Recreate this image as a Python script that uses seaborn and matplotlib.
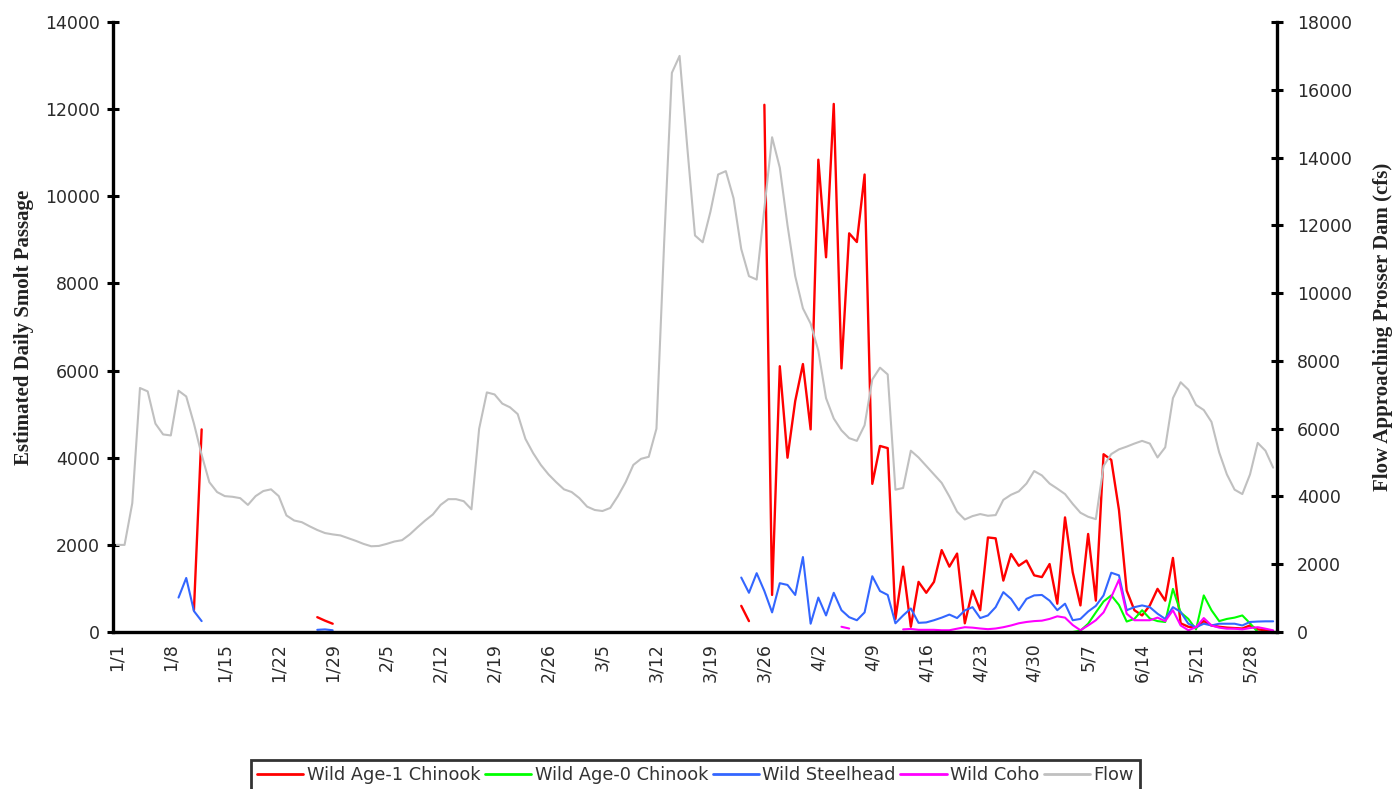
import numpy as np
import pandas as pd
import matplotlib
matplotlib.use("Agg")
import matplotlib.pyplot as plt
import seaborn as sns
from matplotlib.lines import Line2D

n = np.nan

tick_labels = ["1/1", "1/8", "1/15", "1/22", "1/29", "2/5", "2/12", "2/19", "2/26",
               "3/5", "3/12", "3/19", "3/26", "4/2", "4/9", "4/16", "4/23", "4/30",
               "5/7", "6/14", "5/21", "5/28"]

series_names = ["Wild Age-1 Chinook", "Wild Age-0 Chinook", "Wild Steelhead", "Wild Coho", "Flow"]

# Flow approaching Prosser Dam (cfs), daily 1/1 .. 5/31
flow = [2570, 2570, 3800, 7200, 7100, 6150, 5830, 5800, 7120, 6950,
        6150, 5230, 4420, 4130, 4010, 3990, 3950, 3750, 4010, 4160,
        4210, 4010, 3440, 3290, 3240, 3120, 3010, 2920, 2880, 2850,
        2770, 2690, 2600, 2530, 2540, 2600, 2670, 2710, 2880, 3090,
        3290, 3470, 3750, 3920, 3920, 3860, 3620, 6000, 7070, 7010,
        6740, 6630, 6430, 5700, 5280, 4930, 4650, 4420, 4210, 4130,
        3950, 3700, 3600, 3570, 3660, 4010, 4420, 4930, 5110, 5170,
        6000, 11500, 16500, 17000, 14300, 11700, 11500, 12400, 13500, 13600,
        12800, 11300, 10500, 10400, 12500, 14600, 13700, 12000, 10500, 9550,
        9100, 8300, 6900, 6300, 5950, 5720, 5640, 6100, 7450, 7800,
        7600, 4200, 4250, 5350, 5150, 4900, 4650, 4400, 4000, 3550,
        3320, 3420, 3480, 3430, 3450, 3900, 4050, 4150, 4380, 4750,
        4620, 4380, 4230, 4070, 3780, 3520, 3400, 3330, 4900, 5250,
        5390, 5470, 5560, 5640, 5560, 5150, 5450, 6900, 7370, 7150,
        6700, 6550, 6200, 5300, 4650, 4200, 4070, 4650, 5580, 5350,
        4850]

chinook_age1 = ([n] * 10 + [500, 4650] + [n] * 14 + [340, 260, 190] + [n] * 52 +
                [600, 250, n,
                 12100, 850, 6100, 4000, 5300, 6150, 4650, 10840, 8600, 12120,
                 6050, 9150, 8950, 10500, 3400, 4270, 4220, 300, 1500, 120,
                 1150, 900, 1150, 1880, 1500, 1800, 200, 950, 500, 2170,
                 2150, 1180, 1790, 1520, 1640, 1300, 1260, 1560, 650, 2630,
                 1370, 610, 2250, 720, 4080, 3950, 2800, 950, 500, 380,
                 610, 990, 720, 1700, 200, 120, 100, 250, 150, 120,
                 100, 90, 80, 150, 60, 40, 20])

chinook_age0 = ([n] * 103 + [0, 0, n, n, n, n, 0, 0, 0, n, n, n, n, n, n,
                             0, 0, 0, 0, 0, 0, 0, 30,
                             190, 450, 700, 840, 620, 240, 300, 500, 310, 250,
                             230, 990, 450, 300, 60, 840, 500, 250, 300, 330,
                             380, 200, 0, 0, 0])

steelhead = ([n] * 8 + [790, 1240, 480, 250] + [n] * 14 + [50, 60, 40] + [n] * 52 +
             [1250, 900, 1350, 940, 450, 1120, 1080, 850, 1720,
              190, 790, 380, 900, 500, 340, 270, 450, 1280, 940,
              850, 200, 380, 540, 210, 220, 270, 330, 400, 320,
              495, 570, 320, 380, 570, 915, 760, 500, 760, 840,
              850, 720, 500, 650, 270, 300, 470, 600, 840, 1360,
              1300, 500, 570, 610, 570, 420, 300, 570, 460, 190,
              110, 190, 150, 190, 190, 190, 150, 230, 240, 245,
              245])

coho = ([n] * 94 + [120, 80] + [n] * 6 +
        [60, 70, 50, 50, 50, 40, 40, 76, 110, 100,
         80, 65, 80, 110, 150, 200, 230, 250, 260, 300,
         360, 330, 160, 40, 150, 270, 450, 800, 1200, 420,
         270, 270, 270, 330, 250, 500, 150, 40, 110, 320,
         150, 100, 76, 76, 60, 90, 110, 76, 38])

colors = ["#FF0000", "#00FF00", "#3366FF", "#FF00FF", "#C0C0C0"]

sns.set_theme(style="white")
plt.rcParams["font.family"] = ["DejaVu Sans"]

W, H = 1399, 789
fig = plt.figure(figsize=(W / 100, H / 100), dpi=100)
ax = fig.add_axes([113 / W, 1 - 632 / H, (1277 - 113) / W, (632 - 22) / H])
ax2 = ax.twinx()


def draw(axis, values, color, lw):
    s = pd.Series(values, dtype=float)
    df = pd.DataFrame({"day": np.arange(len(s)), "val": s, "seg": s.isna().cumsum()}).dropna()
    sns.lineplot(data=df, x="day", y="val", units="seg", estimator=None,
                 color=color, lw=lw, ax=axis, legend=False)


draw(ax, chinook_age1, colors[0], 1.7)
draw(ax, chinook_age0, colors[1], 1.5)
draw(ax, steelhead, colors[2], 1.5)
draw(ax, coho, colors[3], 1.5)
draw(ax2, flow, colors[4], 1.5)

ax.set_xlim(-0.5, 150.5)
ax.set_ylim(0, 14000)
ax2.set_ylim(0, 18000)
ax.set_yticks(np.arange(0, 14001, 2000))
ax2.set_yticks(np.arange(0, 18001, 2000))
ax.set_xticks(np.arange(0, 148, 7))
ax.set_xticklabels(tick_labels, rotation=90)

tcol = "#2a2a2a"
ax.tick_params(axis="x", length=0, pad=8, labelsize=12.5, labelcolor=tcol)
ax.tick_params(axis="y", left=True, direction="inout", length=9, width=2.2,
               color="black", pad=5, labelsize=12.5, labelcolor=tcol)
ax2.tick_params(axis="y", right=True, direction="inout", length=9, width=2.2,
                color="black", pad=10, labelsize=12.5, labelcolor=tcol)

ax.spines["top"].set_visible(False)
ax2.spines["top"].set_visible(False)
ax.spines["right"].set_visible(False)
ax2.spines["left"].set_visible(False)
ax2.spines["bottom"].set_visible(False)
for sp in (ax.spines["left"], ax.spines["bottom"], ax2.spines["right"]):
    sp.set_color("black")
    sp.set_linewidth(2.4)

ax.set_xlabel("")
ax.set_ylabel("Estimated Daily Smolt Passage", family="Liberation Serif",
              weight="bold", size=15, color="#222222")
ax2.set_ylabel("Flow Approaching Prosser Dam (cfs)", family="Liberation Serif",
               weight="bold", size=15, color="#222222", rotation=90)
ax.yaxis.set_label_coords((34 - 113) / 1164, 0.5)
ax2.yaxis.set_label_coords((1373 - 113) / 1164, 0.5)

handles = [Line2D([], [], color=c, lw=2) for c in colors]
leg = fig.legend(handles, series_names, loc="upper center",
                 bbox_to_anchor=(695.5 / W, 29 / H), bbox_transform=fig.transFigure,
                 ncol=5, frameon=True, fancybox=False, fontsize=12.8,
                 handlelength=2.6, handletextpad=0.2, columnspacing=0.25,
                 borderpad=0.35, borderaxespad=0)
leg.get_frame().set_edgecolor("black")
leg.get_frame().set_linewidth(2)
for t in leg.get_texts():
    t.set_color("#333333")

fig.savefig("out.png", dpi=100)
